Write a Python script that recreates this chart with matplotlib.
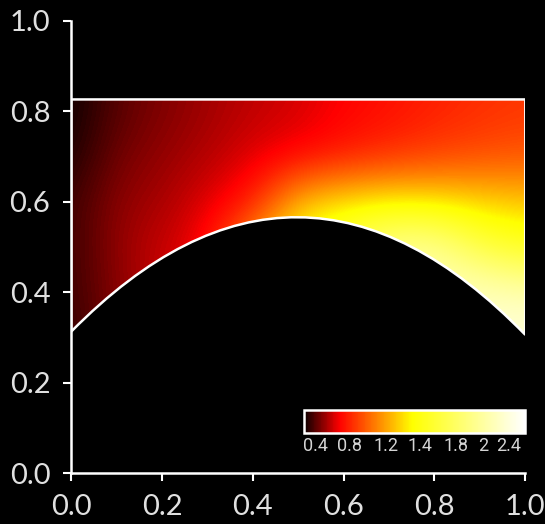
import numpy as np
import matplotlib
matplotlib.use('Agg')
import matplotlib.pyplot as plt
from matplotlib.path import Path
from matplotlib.patches import PathPatch
from matplotlib.colors import LinearSegmentedColormap

# Field samples (rows = grid_y, cols = grid_x)
grid_x = [0.0, 0.1, 0.2, 0.3, 0.4, 0.5, 0.6, 0.7, 0.8, 0.9, 1.0]
grid_y = [0.3, 0.4, 0.5, 0.6, 0.7, 0.8]
field = [
    [0.30, 0.44, 0.54, 0.63, 1.11, 1.48, 1.76, 2.11, 2.23, 2.35, 2.42],
    [0.32, 0.44, 0.54, 0.63, 1.11, 1.48, 1.76, 2.11, 2.23, 2.30, 2.21],
    [0.32, 0.46, 0.54, 0.63, 1.11, 1.48, 1.76, 2.11, 2.11, 1.70, 1.53],
    [0.32, 0.45, 0.49, 0.58, 0.69, 1.18, 1.28, 1.32, 1.30, 1.25, 1.21],
    [0.27, 0.41, 0.46, 0.51, 0.58, 0.63, 0.70, 0.76, 0.81, 0.85, 0.88],
    [0.25, 0.37, 0.43, 0.48, 0.53, 0.56, 0.63, 0.67, 0.72, 0.76, 0.79],
]
vmin, vmax = 0.25, 2.58

# Domain: flat top, lower wall is a quadratic bezier (start, control, end)
top_y = 0.826
wall_x = [0.0, 0.5, 1.0]
wall_y = [0.313, 0.822, 0.306]

axis_ticks = [0.0, 0.2, 0.4, 0.6, 0.8, 1.0]
cbar_ticks = [0.37, 0.73, 1.11, 1.47, 1.85, 2.14, 2.41]
cbar_labels = ['0.4', '0.8', '1.2', '1.4', '1.8', '2', '2.4']

# hot-like colormap as it looks in the colorbar
cmap = LinearSegmentedColormap.from_list(
    'hotish', [(0.0, (0.05, 0, 0)), (0.16, (1, 0, 0)), (0.49, (1, 1, 0)), (1.0, (1, 1, 1))])

fig = plt.figure(figsize=(5.45, 5.24), dpi=100, facecolor='black')
ax = fig.add_axes([0.1306, 0.0968, 0.8333, 0.8637], facecolor='black')

# domain outline path
verts = [(wall_x[0], top_y), (wall_x[2], top_y), (wall_x[2], wall_y[2]),
         (wall_x[1], wall_y[1]), (wall_x[0], wall_y[0]), (wall_x[0], top_y)]
codes = [Path.MOVETO, Path.LINETO, Path.LINETO, Path.CURVE3, Path.CURVE3, Path.CLOSEPOLY]
domain = Path(verts, codes)
outline = PathPatch(domain, facecolor='none', edgecolor='white', lw=1.8, zorder=3)
ax.add_patch(outline)

dx = grid_x[1] - grid_x[0]
dy = grid_y[1] - grid_y[0]
im = ax.imshow(np.array(field), origin='lower', cmap=cmap, vmin=vmin, vmax=vmax,
               interpolation='bicubic', aspect='auto',
               extent=[grid_x[0] - dx / 2, grid_x[-1] + dx / 2,
                       grid_y[0] - dy / 2, grid_y[-1] + dy / 2])
im.set_clip_path(outline)

ax.set_xlim(0, 1)
ax.set_ylim(0, 1)
ax.set_xticks(axis_ticks)
ax.set_yticks(axis_ticks)
ax.set_xticklabels(['%.1f' % t for t in axis_ticks])
ax.set_yticklabels(['%.1f' % t for t in axis_ticks])
for side in ['top', 'right']:
    ax.spines[side].set_visible(False)
for side in ['left', 'bottom']:
    ax.spines[side].set_color('white')
    ax.spines[side].set_linewidth(1.8)
ax.tick_params(colors='white', labelcolor='#e0e0e0', length=6, width=1.5,
               pad=9, labelsize=21)
for lab in ax.get_xticklabels() + ax.get_yticklabels():
    lab.set_family('Lato')

# inset colorbar
cax = fig.add_axes([0.558, 0.174, 0.4055, 0.0439])
cb = fig.colorbar(im, cax=cax, orientation='horizontal', ticks=cbar_ticks)
cb.set_ticklabels(cbar_labels)
cb.outline.set_edgecolor('white')
cb.outline.set_linewidth(1.8)
cax.tick_params(length=0, labelcolor='#d4d4d4', labelsize=13, pad=3)
for lab in cax.get_xticklabels():
    lab.set_family('Roboto')

fig.savefig('out.png', dpi=100, facecolor='black')
